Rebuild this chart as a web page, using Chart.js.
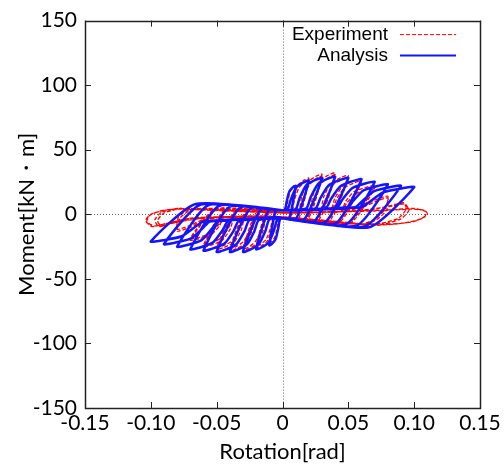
<!DOCTYPE html>
<html>
<head>
<meta charset="utf-8">
<script src="https://cdn.jsdelivr.net/npm/chart.js@4/dist/chart.umd.min.js"></script>
<style>
  html, body { margin: 0; padding: 0; background: #fff; }
  #wrap { width: 504px; height: 468px; }
</style>
</head>
<body>
<div id="wrap"><canvas id="chart"></canvas></div>
<script>
// axis ticks
const xTickValues = [-0.15, -0.10, -0.05, 0, 0.05, 0.10, 0.15];
const xTickLabels = ['-0.15', '-0.10', '-0.05', '0', '0.05', '0.10', '0.15'];
const yTickValues = [-150, -100, -50, 0, 50, 100, 150];
const yTickLabels = ['-150', '-100', '-50', '0', '50', '100', '150'];

// Experiment (rotation rad / moment kN・m), one line per cycle
const expRot = [
  0,
  0.003, 0.004, 0.0058, 0.0083, 0.01, 0.006, 0, -0.003, -0.004, -0.0058, -0.0083, -0.01, -0.006, 0,
  0.006, 0.0081, 0.0116, 0.0165, 0.02, 0.011, 0, -0.006, -0.0081, -0.0116, -0.0165, -0.02, -0.011, 0,
  0.007, 0.009, 0.0125, 0.017, 0.02, 0.012, 0, -0.007, -0.009, -0.0125, -0.017, -0.02, -0.012, 0,
  0.012, 0.0147, 0.0192, 0.0255, 0.03, 0.018, 0, -0.012, -0.0147, -0.0192, -0.0255, -0.03, -0.018, 0,
  0.013, 0.016, 0.0205, 0.026, 0.03, 0.019, 0, -0.013, -0.016, -0.0205, -0.026, -0.03, -0.019, 0,
  0.02, 0.023, 0.028, 0.035, 0.04, 0.026, 0, -0.02, -0.023, -0.028, -0.035, -0.04, -0.026, 0,
  0.021, 0.0245, 0.0295, 0.036, 0.04, 0.027, 0, -0.021, -0.0245, -0.0295, -0.036, -0.04, -0.027, 0,
  0.028, 0.0313, 0.0368, 0.0445, 0.05, 0.034, 0, -0.028, -0.0313, -0.0368, -0.0445, -0.05, -0.034, 0,
  0.029, 0.033, 0.038, 0.0455, 0.05, 0.035, 0, -0.029, -0.033, -0.038, -0.0455, -0.05, -0.035, 0,
  0.036, 0.0396, 0.0456, 0.054, 0.06, 0.042, 0, -0.036, -0.0396, -0.0456, -0.054, -0.06, -0.042, 0,
  0.037, 0.041, 0.047, 0.055, 0.06, 0.043, 0, -0.037, -0.041, -0.047, -0.055, -0.06, -0.043, 0,
  0.044, 0.0479, 0.0544, 0.0635, 0.07, 0.05, 0, -0.044, -0.0479, -0.0544, -0.0635, -0.07, -0.05, 0,
  0.045, 0.049, 0.056, 0.064, 0.07, 0.051, 0, -0.045, -0.049, -0.056, -0.064, -0.07, -0.051, 0,
  0.045, 0.06, 0.07, 0.08, 0.078, 0.07, 0.06, 0, -0.045, -0.06, -0.07, -0.08, -0.078, -0.07, -0.055, 0,
  0.047, 0.061, 0.071, 0.08, 0.079, 0.071, 0.06, 0, -0.047, -0.061, -0.071, -0.08, -0.079, -0.071, -0.056, 0,
  0.05, 0.07, 0.083, 0.092, 0.094, 0.088, 0.075, 0.06, 0, -0.05, -0.07, -0.085, -0.092, -0.095, -0.09, -0.078, 0,
  0.052, 0.071, 0.084, 0.093, 0.096, 0.09, 0.077, 0.06, 0, -0.052, -0.071, -0.086, -0.094, -0.097, -0.092, -0.08, 0,
  0.05, 0.08, 0.098, 0.108, 0.11, 0.104, 0.09, 0.07, 0, -0.05, -0.07, -0.088, -0.097, -0.103, -0.101, -0.093, -0.08, 0,
  0.052, 0.082, 0.1, 0.109, 0.108, 0.1, 0.086, 0.068, 0, -0.052, -0.072, -0.09, -0.099, -0.104, -0.1, -0.09, -0.078, 0
];
const expMom = [
  1,
  2, 9.9, 17.6, 20.9, 22, -2.5, -2, -2, -9.9, -17.6, -20.9, -22, 1.4, 1,
  2, 12.6, 22.4, 26.6, 28, -3, -2, -2, -11.7, -20.8, -24.7, -26, 1.7, 1,
  2, 11, 20.5, 25, 26.5, -3.5, -2.5, -2.5, -10.5, -19.5, -23.5, -24.5, 2, 1.5,
  2, 14, 24.8, 29.5, 31, -3.6, -2, -2, -12.6, -22.4, -26.6, -28, 2.1, 1,
  2.5, 13, 23, 28, 29.5, -4, -2.5, -2.5, -11.5, -21, -25.5, -26.5, 2.5, 1.5,
  2, 14.4, 25.6, 30.4, 32, -4.3, -2, -2, -12.6, -22.4, -26.6, -28, 2.6, 1,
  2.5, 13.5, 24, 29, 30.5, -4.8, -2.5, -2.5, -11.5, -21, -25.5, -26.5, 3, 1.5,
  2, 13.5, 24, 28.5, 30, -5.1, -2, -2, -12.2, -21.6, -25.7, -27, 3, 1,
  2.5, 12.5, 22.5, 27, 28.5, -5.6, -2.5, -2.5, -11.5, -20.5, -24.5, -25.5, 3.4, 1.5,
  2, 12.2, 21.6, 25.7, 27, -5.8, -2, -2, -11.3, -20, -23.8, -25, 3.5, 1,
  2.5, 11.5, 20.5, 24.5, 25.5, -6.3, -2.5, -2.5, -10.5, -18.5, -22.5, -23.5, 3.8, 1.5,
  2, 9.9, 17.6, 20.9, 22, -6.5, -2, -2, -9, -16, -19, -20, 4, 1,
  2.5, 9, 16, 19.5, 20.5, -7, -2.5, -2.5, -8.5, -15, -18, -18.5, 4.2, 1.5,
  2, 6, 11, 14, 4, -4, -7.4, -2, -2, -5, -10, -13, -3, 3, 4.3, 1,
  2.5, 5.5, 10, 12.5, 3, -4.5, -7.8, -2.5, -2.5, -4.5, -9, -11.5, -2, 3.5, 4.6, 1.5,
  2, 4, 7, 9, 4, -3, -7, -7.4, -2, -2, -4, -7, -9, -5, 1, 4, 1,
  2.5, 4.5, 6.5, 8, 3, -3.5, -7.5, -7.8, -2.5, -2.5, -4.5, -7.5, -9.5, -4.5, 1.5, 4.5, 1.5,
  2, 3, 4, 3, 0, -4, -7, -8, -2, -2, -3, -7, -9, -6, -1, 2.5, 4, 1,
  2.5, 3.5, 4.5, 2, -2, -5.5, -7.5, -8.5, -2.5, -2.5, -3.5, -7.5, -9.5, -5, 0, 3, 4.5, 1.5
];

// Analysis, one line per cycle
const anaRot = [
  0,
  0.002, 0.0032, 0.0052, 0.008, 0.01, 0.005, 0, -0.002, -0.0032, -0.0052, -0.008, -0.01, -0.005, 0,
  0.004, 0.0064, 0.0104, 0.016, 0.02, 0.01, 0, -0.004, -0.0064, -0.0104, -0.016, -0.02, -0.01, 0,
  0.01, 0.013, 0.018, 0.025, 0.03, 0.016, 0, -0.01, -0.013, -0.018, -0.025, -0.03, -0.016, 0,
  0.018, 0.0213, 0.0268, 0.0345, 0.04, 0.024, 0, -0.018, -0.0213, -0.0268, -0.0345, -0.04, -0.024, 0,
  0.025, 0.0288, 0.035, 0.0438, 0.05, 0.032, 0, -0.025, -0.0288, -0.035, -0.0438, -0.05, -0.032, 0,
  0.033, 0.037, 0.0438, 0.0533, 0.06, 0.04, 0, -0.033, -0.037, -0.0438, -0.0533, -0.06, -0.04, 0,
  0.041, 0.0454, 0.0526, 0.0628, 0.07, 0.048, 0, -0.041, -0.0454, -0.0526, -0.0628, -0.07, -0.048, 0,
  0.049, 0.0537, 0.0614, 0.0723, 0.08, 0.056, 0, -0.049, -0.0537, -0.0614, -0.0723, -0.08, -0.056, 0,
  0.055, 0.0603, 0.069, 0.0813, 0.09, 0.062, 0, -0.055, -0.0603, -0.069, -0.0813, -0.09, -0.062, 0,
  0.06, 0.066, 0.076, 0.09, 0.1, 0.066, 0, -0.06, -0.066, -0.076, -0.09, -0.1, -0.066, 0
];
const anaMom = [
  3,
  4, 10, 17.6, 21, 22, -3.5, -3, -4, -10.8, -19.2, -22.8, -24, 3.4, 3,
  4, 11.7, 20.8, 24.7, 26, -4, -3, -4, -12.2, -21.6, -25.7, -27, 3.8, 3,
  4, 12.6, 22.4, 26.6, 28, -4.7, -3, -4, -13, -23.2, -27.6, -29, 4.2, 3,
  4.5, 13, 23.2, 27.6, 29, -5.5, -3, -4.5, -13, -23.2, -27.6, -29, 4.8, 3,
  4.5, 12.6, 22.4, 26.6, 28, -6.4, -3, -4.5, -13, -23.2, -27.6, -29, 5.4, 3,
  5, 12.2, 21.6, 25.7, 27, -7.2, -3, -5, -12.6, -22.4, -26.6, -28, 6, 3,
  5, 11.3, 20, 23.8, 25, -8, -3, -5, -12.2, -21.6, -25.7, -27, 6.6, 3,
  5.5, 10.4, 18.4, 21.9, 23, -8.9, -3, -5.5, -11.3, -20, -23.8, -25, 7.2, 3,
  5.5, 9.9, 17.6, 20.9, 22, -9.5, -3, -5.5, -10.4, -18.4, -21.9, -23, 7.6, 3,
  5.5, 9.5, 16.8, 20, 21, -10, -3, -5.5, -9.5, -16.8, -20, -21, 8, 3
];

const toPoints = (xs, ys) => xs.map((x, i) => ({ x: x, y: ys[i] }));

const FONT = 'Lato, "Open Sans", sans-serif';

// frame, inward ticks, dotted zero lines, legend with text left of sample
const decorations = {
  id: 'decorations',
  beforeDatasetsDraw(chart) {
    const { ctx, chartArea: a, scales: { x, y } } = chart;
    ctx.save();
    ctx.strokeStyle = '#666';
    ctx.lineWidth = 1;
    ctx.setLineDash([1, 2]);
    const x0 = Math.round(x.getPixelForValue(0)) + 0.5;
    const y0 = Math.round(y.getPixelForValue(0)) + 0.5;
    ctx.beginPath();
    ctx.moveTo(x0, a.top); ctx.lineTo(x0, a.bottom);
    ctx.moveTo(a.left, y0); ctx.lineTo(a.right, y0);
    ctx.stroke();
    ctx.restore();
  },
  afterDraw(chart) {
    const { ctx, chartArea: a, scales: { x, y } } = chart;
    ctx.save();
    ctx.strokeStyle = '#222';
    ctx.lineWidth = 1;
    ctx.setLineDash([]);
    ctx.beginPath();
    xTickValues.forEach(v => {
      const px = Math.round(x.getPixelForValue(v)) + 0.5;
      ctx.moveTo(px, a.bottom); ctx.lineTo(px, a.bottom - 6);
      ctx.moveTo(px, a.top); ctx.lineTo(px, a.top + 6);
    });
    yTickValues.forEach(v => {
      const py = Math.round(y.getPixelForValue(v)) + 0.5;
      ctx.moveTo(a.left, py); ctx.lineTo(a.left + 6, py);
      ctx.moveTo(a.right, py); ctx.lineTo(a.right - 6, py);
    });
    ctx.stroke();
    ctx.lineWidth = 1.5;
    ctx.strokeRect(Math.round(a.left) + 0.5, Math.round(a.top) + 0.5,
      Math.round(a.right - a.left), Math.round(a.bottom - a.top));

    // legend
    ctx.font = '19px "Liberation Sans", Arial, sans-serif';
    ctx.textAlign = 'right';
    ctx.textBaseline = 'middle';
    chart.data.datasets.forEach((ds, i) => {
      const ly = a.top + 14 + i * 21;
      ctx.fillStyle = '#000';
      ctx.fillText(ds.label, a.right - 92, ly);
      ctx.strokeStyle = ds.borderColor;
      ctx.lineWidth = ds.legendWidth;
      ctx.setLineDash(ds.borderDash || []);
      ctx.beginPath();
      ctx.moveTo(a.right - 80, ly);
      ctx.lineTo(a.right - 24, ly);
      ctx.stroke();
    });
    ctx.restore();
  }
};

new Chart(document.getElementById('chart'), {
  type: 'scatter',
  data: {
    datasets: [
      {
        label: 'Experiment',
        data: toPoints(expRot, expMom),
        showLine: true,
        borderColor: 'rgb(255, 0, 0)',
        borderWidth: 1.3,
        borderDash: [4, 2],
        legendWidth: 1,
        pointRadius: 0,
        tension: 0.2,
        order: 2
      },
      {
        label: 'Analysis',
        data: toPoints(anaRot, anaMom),
        showLine: true,
        borderColor: 'rgb(20, 20, 255)',
        borderWidth: 2.5,
        legendWidth: 2,
        pointRadius: 0,
        tension: 0.2,
        order: 1
      }
    ]
  },
  options: {
    responsive: true,
    maintainAspectRatio: false,
    animation: false,
    layout: { padding: { top: 15, right: 24, bottom: 0, left: 0 } },
    plugins: { legend: { display: false }, tooltip: { enabled: false } },
    scales: {
      x: {
        type: 'linear',
        min: -0.15,
        max: 0.15,
        afterBuildTicks: s => { s.ticks = xTickValues.map(v => ({ value: v })); },
        afterFit: s => { s.height = 60; },
        grid: { display: false, drawTicks: false },
        border: { display: false },
        ticks: {
          callback: (v, i) => xTickLabels[i],
          color: '#000',
          font: { family: FONT, size: 21 },
          padding: 3,
          maxRotation: 0,
          autoSkip: false
        },
        title: {
          display: true,
          text: 'Rotation[rad]',
          color: '#000',
          font: { family: FONT, size: 22 },
          padding: { top: 0, bottom: 3 }
        }
      },
      y: {
        type: 'linear',
        min: -150,
        max: 150,
        afterBuildTicks: s => { s.ticks = yTickValues.map(v => ({ value: v })); },
        afterFit: s => { s.width = 85; },
        grid: { display: false, drawTicks: false },
        border: { display: false },
        ticks: {
          callback: (v, i) => yTickLabels[i],
          color: '#000',
          font: { family: FONT, size: 21 },
          padding: 8,
          autoSkip: false
        },
        title: {
          display: true,
          text: 'Moment[kN・m]',
          color: '#000',
          font: { family: FONT, size: 22 },
          padding: { top: 14, bottom: 0 }
        }
      }
    }
  },
  plugins: [decorations]
});
</script>
</body>
</html>
